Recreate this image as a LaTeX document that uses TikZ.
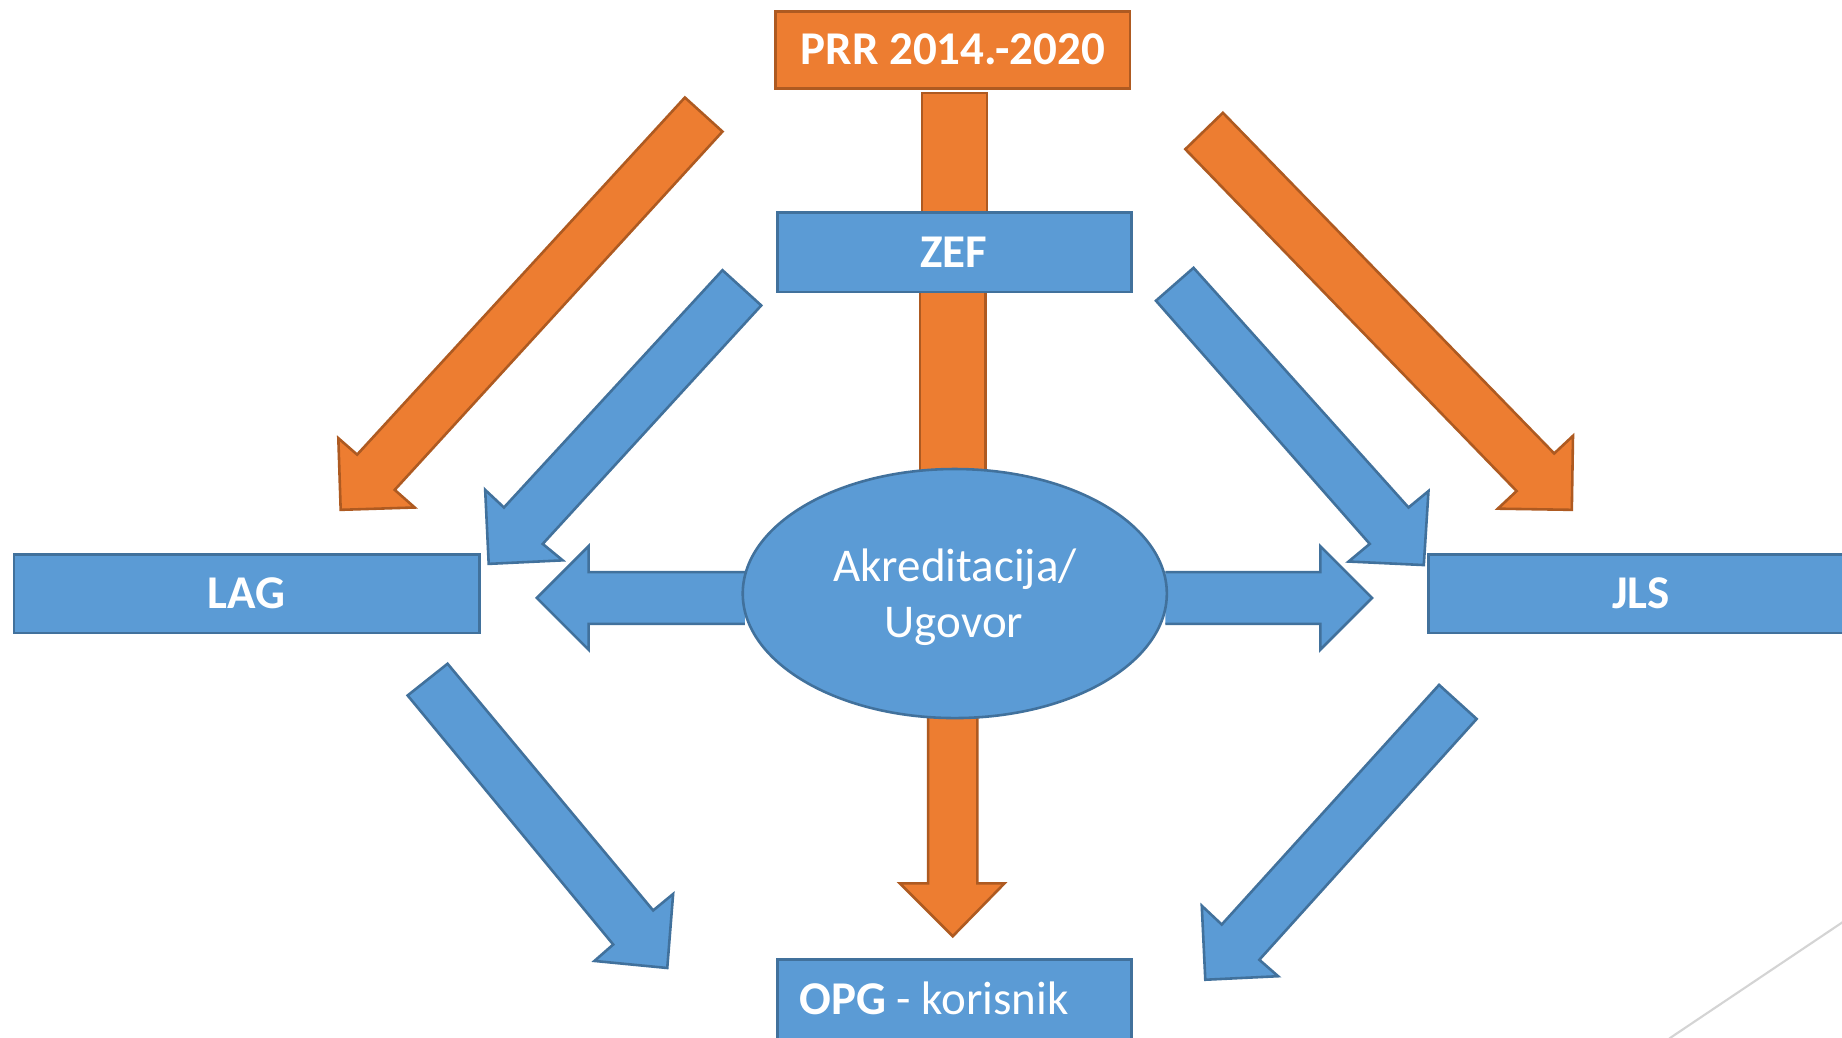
\documentclass[tikz,border=0pt]{standalone}
\usepackage{fontspec}
\setmainfont{Carlito}
\usetikzlibrary{shapes.geometric}
\definecolor{orf}{HTML}{ED7D31}
\definecolor{ord}{HTML}{AE5A21}
\definecolor{blf}{HTML}{5B9BD5}
\definecolor{bld}{HTML}{41719C}
\definecolor{grl}{HTML}{D4D4D4}
\begin{document}
\begin{tikzpicture}[x=0.5pt,y=-0.5pt,
  oshape/.style={fill=orf,draw=ord,line width=1.1pt,line join=miter},
  bshape/.style={fill=blf,draw=bld,line width=1.1pt,line join=miter},
  obox/.style={oshape,rectangle,inner sep=0pt},
  bbox/.style={bshape,rectangle,inner sep=0pt},
  lbl/.style={text=white,inner sep=0pt,anchor=base,font=\fontsize{20}{24}\selectfont},
  blbl/.style={lbl,font=\fontsize{20}{24}\selectfont\bfseries}]
\useasboundingbox (0,0) rectangle (1568,883);
\fill[white] (0,0) rectangle (1568,883);
\begin{scope}
\clip (0,0) rectangle (1568,883);
% orange diagonal arrows
\draw[oshape] (583,83) -- (304,387) -- (288,373) -- (290,434) -- (353,432) -- (336,417) -- (615,112) -- cycle;
\draw[oshape] (1009,127) -- (1291,418) -- (1275,433) -- (1338,434) -- (1339,371) -- (1323,386) -- (1041,96) -- cycle;
% blue diagonal arrows
\draw[bshape] (615,230) -- (429,432) -- (413,417) -- (416,480) -- (479,477) -- (462,463) -- (648,260) -- cycle;
\draw[bshape] (984,256) -- (1166,463) -- (1148,478) -- (1212,481) -- (1216,418) -- (1199,432) -- (1016,228) -- cycle;
\draw[bshape] (347,592) -- (522,804) -- (506,818) -- (568,824) -- (573,761) -- (556,775) -- (381,565) -- cycle;
\draw[bshape] (1225,583) -- (1040,787) -- (1023,771) -- (1026,834) -- (1088,831) -- (1072,817) -- (1257,612) -- cycle;
% vertical orange connectors
\draw[oshape] (785,195) -- (785,79) -- (840,79) -- (840,195);
\draw[oshape] (783,240) rectangle (839,412);
% boxes
\node[obox,minimum width=151pt,minimum height=32.75pt] (prr) at (811,42.75) {};
\node[bbox,minimum width=150.5pt,minimum height=33.75pt] (zef) at (812.5,214.75) {};
% side arrows and down arrow
\draw[bshape] (634,487) -- (501,487) -- (501,465) -- (457,509) -- (501,553) -- (501,531) -- (634,531);
\draw[bshape] (992,487) -- (1124,487) -- (1124,465) -- (1168,509) -- (1124,553) -- (1124,531) -- (992,531);
\draw[oshape] (790,600) -- (790,752) -- (766,752) -- (811,797) -- (855,752) -- (832,752) -- (832,600) -- cycle;
% ellipse
\node[bshape,ellipse,inner sep=0pt,minimum width=180.5pt,minimum height=106pt] (ak) at (812.75,505.25) {};
% side boxes
\node[bbox,minimum width=198pt,minimum height=33.5pt] (lag) at (210,505.5) {};
\node[bbox,minimum width=198pt,minimum height=33.5pt] (jls) at (1414,505.5) {};
\node[bbox,minimum width=150.5pt,minimum height=41.5pt] (opg) at (812.5,858.5) {};
% grey line
\draw[grl,line width=0.9pt] (1421,884) -- (1570,784);
\end{scope}
% labels
\node[blbl] (tprr) at (811,55) {PRR 2014.-2020};
\node[blbl] (tzef) at (812,228) {ZEF};
\node[blbl] (tlag) at (210,518) {LAG};
\node[blbl] (tjls) at (1397,518) {JLS};
\node[lbl] (tak1) at (813,495) {Akreditacija/};
\node[lbl] (tak2) at (812,543) {Ugovor};
\node[lbl,anchor=base west] (topg) at (680,864) {\textbf{OPG} - korisnik};
\end{tikzpicture}
\end{document}
